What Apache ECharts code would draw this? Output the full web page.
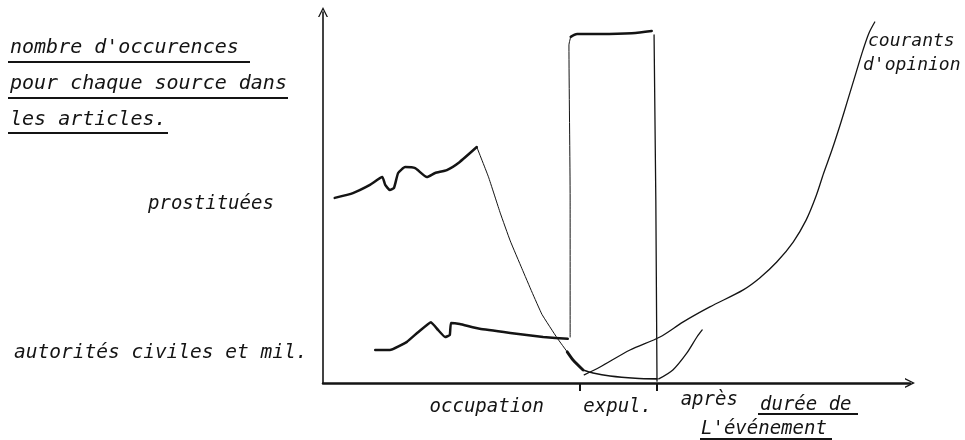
<!DOCTYPE html>
<html><head><meta charset="utf-8">
<script src="https://cdn.jsdelivr.net/npm/echarts@6/dist/echarts.min.js"></script>
<style>html,body{margin:0;padding:0;background:#fff}#c{width:965px;height:440px}</style>
</head><body><div id="c"></div>
<script>
// ---- phase axis ----
const phaseLabels = ['occupation', 'expul.', 'après'];
const phaseLabelPos = [27.9, 50.2, 65.8];
const phaseTicks = [43.8, 56.9];

// ---- prostituées (hand-drawn curve) ----
const prostPlateauX = [2.0, 5.1, 8.0, 10.1, 10.6, 11.4, 12.1, 12.8, 14.0, 15.7, 17.7, 19.1, 21.1, 23.3, 26.2];
const prostPlateauY = [49.9, 51.2, 53.4, 55.5, 53.4, 52.0, 52.6, 56.6, 58.2, 57.9, 55.5, 56.6, 57.4, 59.6, 63.6];
const prostDescentX = [26.2, 28.2, 30.2, 31.9, 33.9, 35.6, 37.3, 39.9, 41.6];
const prostDescentY = [63.6, 55.5, 45.8, 38.3, 30.8, 24.5, 18.5, 12.1, 8.4];
const prostLowX = [41.6, 42.6, 44.3];
const prostLowY = [8.4, 6.2, 3.5];
const prostBottomX = [44.3, 46.0, 48.9, 53.2, 56.9];
const prostBottomY = [3.5, 2.7, 1.9, 1.3, 1.1];

// ---- autorités civiles et mil. ----
const autX = [8.9, 11.4, 14.3, 16.2, 18.4, 19.6, 20.8, 21.6, 21.8, 23.3, 26.7, 31.9, 37.5, 41.7];
const autY = [8.9, 8.9, 11.1, 13.7, 16.4, 14.3, 12.4, 12.9, 16.2, 15.9, 14.6, 13.5, 12.4, 11.9];

// ---- courants d'opinion ----
const courX = [44.5, 47.2, 52.3, 57.4, 61.3, 65.9, 71.6, 74.4, 77.3, 80.1, 82.3, 84.0, 85.3, 86.7, 88.2, 89.4, 90.8, 92.0, 93.0, 94.0];
const courY = [2.2, 4.3, 8.9, 12.4, 16.4, 20.5, 25.1, 28.3, 32.6, 38.0, 43.9, 50.4, 56.6, 62.8, 70.1, 76.3, 83.6, 89.8, 94.3, 97.3];

// ---- small curve after expulsion ----
const apresX = [57.2, 59.6, 62.0, 63.7, 64.6];
const apresY = [1.1, 3.5, 8.1, 12.4, 14.3];

// ---- expulsion block outline ----
const expLeftX = [42.1, 42.1, 41.9, 42.2];
const expLeftY = [12.4, 49.3, 91.1, 93.3];
const expTopX = [42.2, 43.3, 47.2, 52.6, 56.0];
const expTopY = [93.3, 94.1, 94.1, 94.3, 94.9];
const expRightX = [56.4, 56.7, 56.9];
const expRightY = [93.8, 49.3, 0.5];

const zip = (xs, ys) => xs.map((x, i) => [x, ys[i]]);
const INK = '#141414';
const FONT = '"DejaVu Sans Mono", monospace';

function line(name, xs, ys, width, smooth) {
  return {
    name, type: 'line', data: zip(xs, ys), symbol: 'none', smooth: smooth || 0,
    lineStyle: { color: INK, width, cap: 'round', join: 'round' }, silent: true, animation: false, z: 3
  };
}

const chevron = 'path://M0,10 L5,0 L10,10 L8.6,10 L5,2.8 L1.4,10 Z';

function txt(text, x, y, size) {
  return { type: 'text', x, y, style: { text, font: 'italic ' + size + 'px ' + FONT, fill: INK, verticalAlign: 'middle' } };
}
function uline(x1, x2, y) {
  return { type: 'line', shape: { x1, y1: y, x2, y2: y }, style: { stroke: INK, lineWidth: 2 } };
}

const chart = echarts.init(document.getElementById('c'), null, { renderer: 'canvas' });
chart.setOption({
  backgroundColor: '#fff',
  animation: false,
  grid: { left: 323, right: 55, top: 12, bottom: 57 },
  xAxis: {
    type: 'value', min: 0, max: 100,
    splitLine: { show: false },
    axisLine: { show: true, lineStyle: { color: INK, width: 2.5 }, symbol: ['none', chevron], symbolSize: [12, 10] },
    axisTick: { show: true, customValues: phaseTicks, length: 8, lineStyle: { color: INK, width: 2 } },
    axisLabel: {
      show: true, customValues: phaseLabelPos, margin: 8,
      formatter: v => {
        const i = phaseLabelPos.indexOf(v);
        const t = i >= 0 ? phaseLabels[i] : '';
        return i === 2 ? '{a|' + t + '}' : '{b|' + t + '}';
      },
      rich: {
        a: { fontFamily: FONT, fontStyle: 'italic', fontSize: 19, color: INK, padding: [0, 0, 0, 0] },
        b: { fontFamily: FONT, fontStyle: 'italic', fontSize: 19, color: INK, padding: [7, 0, 0, 0] }
      }
    }
  },
  yAxis: {
    type: 'value', min: 0, max: 100,
    splitLine: { show: false },
    axisLine: { show: true, lineStyle: { color: INK, width: 1.6 }, symbol: ['none', chevron], symbolSize: [10, 10] },
    axisTick: { show: false },
    axisLabel: { show: false }
  },
  series: [
    line('prostituées', prostPlateauX, prostPlateauY, 2.5, 0.15),
    line('prostituées (baisse)', prostDescentX, prostDescentY, 1, 0.1),
    line('prostituées (bas)', prostLowX, prostLowY, 2.8, 0.2),
    line('prostituées (fin)', prostBottomX, prostBottomY, 1.6, 0.3),
    line('autorités civiles et mil.', autX, autY, 2.5, 0.1),
    line("courants d'opinion", courX, courY, 1.3, 0.3),
    line('après', apresX, apresY, 1.3, 0.3),
    line('expulsion gauche', expLeftX, expLeftY, 1, 0.2),
    line('expulsion haut', expTopX, expTopY, 2.5, 0.3),
    line('expulsion droite', expRightX, expRightY, 1.3, 0)
  ],
  graphic: [
    txt("nombre d'occurences", 10, 48, 20),
    uline(8, 250, 62),
    txt('pour chaque source dans', 10, 84, 20),
    uline(8, 288, 98),
    txt('les articles.', 10, 120, 20),
    uline(8, 168, 133),
    txt('prostituées', 148, 204, 19),
    txt('autorités civiles et mil.', 14, 353, 19.5),
    txt('durée de', 760, 405, 19),
    uline(758, 858, 414),
    txt("L'événement", 701, 429, 19),
    uline(700, 832, 439),
    txt('courants', 868, 41, 18),
    txt("d'opinion", 863, 65, 18)
  ]
});
</script>
</body></html>
